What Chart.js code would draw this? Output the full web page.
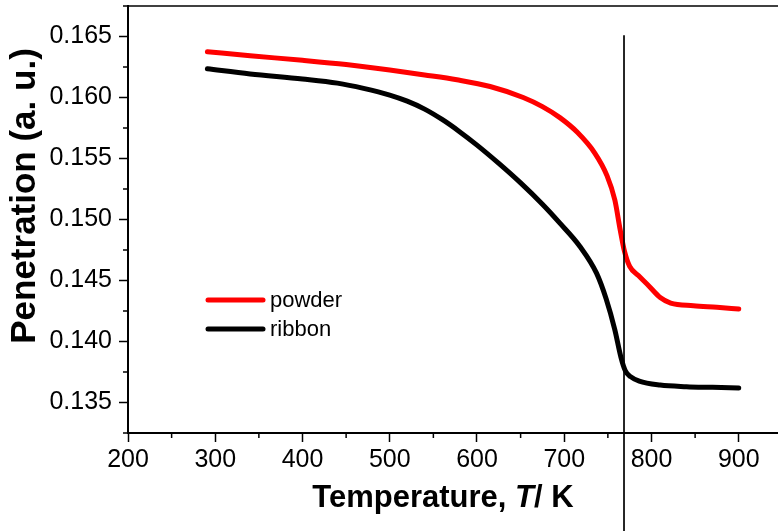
<!DOCTYPE html>
<html>
<head>
<meta charset="utf-8">
<script src="https://cdn.jsdelivr.net/npm/chart.js@4.4.1/dist/chart.umd.min.js"></script>
<style>
  html, body { margin: 0; padding: 0; background: #fff; overflow: hidden; }
  #wrap { width: 778px; height: 531px; }
</style>
</head>
<body>
<div id="wrap"><canvas id="chart" width="778" height="531"></canvas></div>
<script>
"use strict";

// penetration vs temperature, powder and ribbon samples
const powderTemp = [291, 340, 400, 450, 500, 540, 577, 615, 653, 675, 695, 715, 735, 749, 758, 764, 769, 775, 785, 797, 810, 822, 848, 875, 900];
const powderPen = [0.16375, 0.16342, 0.16305, 0.16270, 0.16225, 0.16185, 0.16145, 0.16090, 0.16000, 0.15925, 0.15835, 0.15715, 0.15545, 0.15360, 0.15160, 0.14920, 0.14740, 0.14615, 0.14540, 0.14455, 0.14360, 0.14315, 0.14293, 0.14280, 0.14266];

const ribbonTemp = [291, 340, 400, 440, 470, 500, 520, 540, 560, 580, 600, 625, 650, 675, 695, 718, 737, 748, 758, 765, 770, 776, 786, 810, 840, 870, 900];
const ribbonPen = [0.16235, 0.16193, 0.16152, 0.16118, 0.16075, 0.16020, 0.15970, 0.15905, 0.15820, 0.15720, 0.15610, 0.15460, 0.15300, 0.15125, 0.14970, 0.14779, 0.14560, 0.14350, 0.14096, 0.13870, 0.13760, 0.13712, 0.13675, 0.13643, 0.13630, 0.13624, 0.13618];

const seriesNames = ["powder", "ribbon"];
const xTickValues = [200, 300, 400, 500, 600, 700, 800, 900];
const yTickValues = [0.135, 0.140, 0.145, 0.150, 0.155, 0.160, 0.165];

// transition marker
const transitionT = 768.5;
const markerTop = 0.1651;

const FONT = "Arial, 'Liberation Sans', Helvetica, sans-serif";

function toPoints(xs, ys) {
  return xs.map((x, i) => ({ x, y: ys[i] }));
}

const decor = {
  id: "decor",
  afterDatasetsDraw(chart) {
    const { ctx, chartArea: a, scales: { x, y } } = chart;
    ctx.save();
    ctx.strokeStyle = "#000";

    // top frame line
    ctx.lineWidth = 1.5;
    ctx.beginPath();
    ctx.moveTo(a.left, a.top);
    ctx.lineTo(a.right, a.top);
    ctx.stroke();

    // minor ticks halfway between major ones
    ctx.beginPath();
    for (let i = 0; i < xTickValues.length; i++) {
      const px = x.getPixelForValue(xTickValues[i] + 50);
      if (px > a.right) continue;
      ctx.moveTo(px, a.bottom);
      ctx.lineTo(px, a.bottom + 5);
    }
    for (let i = -1; i < yTickValues.length; i++) {
      const v = i < 0 ? yTickValues[0] - 0.0025 : yTickValues[i] + 0.0025;
      const py = y.getPixelForValue(v);
      if (py < a.top - 0.5 || py > a.bottom + 0.5) continue;
      ctx.moveTo(a.left, py);
      ctx.lineTo(a.left - 5, py);
    }
    ctx.stroke();

    // vertical marker line at the transition temperature
    const mx = x.getPixelForValue(transitionT);
    ctx.lineWidth = 1.7;
    ctx.beginPath();
    ctx.moveTo(mx, y.getPixelForValue(markerTop));
    ctx.lineTo(mx, chart.height);
    ctx.stroke();

    // legend
    const legendX = 208, legendY = 300, rowGap = 29, lineLen = 55;
    ctx.lineCap = "round";
    ctx.font = "22px " + FONT;
    ctx.textBaseline = "middle";
    ctx.fillStyle = "#000";
    chart.data.datasets.forEach((ds, i) => {
      const ly = legendY + i * rowGap;
      ctx.strokeStyle = ds.borderColor;
      ctx.lineWidth = 5;
      ctx.beginPath();
      ctx.moveTo(legendX, ly);
      ctx.lineTo(legendX + lineLen, ly);
      ctx.stroke();
      ctx.fillText(ds.label, legendX + lineLen + 7, ly + 1);
    });

    // x axis title with italic symbol
    const parts = [
      ["Temperature, ", "bold 31px " + FONT],
      ["T", "italic bold 31px " + FONT],
      ["/ K", "bold 31px " + FONT],
    ];
    let total = 0;
    parts.forEach(([t, f]) => { ctx.font = f; total += ctx.measureText(t).width; });
    let tx = 443 - total / 2;
    ctx.textBaseline = "alphabetic";
    parts.forEach(([t, f]) => {
      ctx.font = f;
      ctx.fillText(t, tx, 507);
      tx += ctx.measureText(t).width;
    });

    // y axis title
    ctx.save();
    ctx.translate(35, 196);
    ctx.rotate(-Math.PI / 2);
    ctx.font = "bold 35px " + FONT;
    ctx.textAlign = "center";
    ctx.fillText("Penetration (a. u.)", 0, 0);
    ctx.restore();

    ctx.restore();
  },
};

new Chart(document.getElementById("chart"), {
  type: "line",
  data: {
    datasets: [
      {
        label: seriesNames[0],
        data: toPoints(powderTemp, powderPen),
        borderColor: "#ff0000",
        borderWidth: 5,
        pointRadius: 0,
        cubicInterpolationMode: "monotone",
        borderCapStyle: "round",
        borderJoinStyle: "round",
      },
      {
        label: seriesNames[1],
        data: toPoints(ribbonTemp, ribbonPen),
        borderColor: "#000000",
        borderWidth: 5,
        pointRadius: 0,
        cubicInterpolationMode: "monotone",
        borderCapStyle: "round",
        borderJoinStyle: "round",
      },
    ],
  },
  options: {
    responsive: false,
    animation: false,
    events: [],
    layout: { padding: { top: 6, right: 0, bottom: 0, left: 0 } },
    plugins: { legend: { display: false }, tooltip: { enabled: false } },
    scales: {
      x: {
        type: "linear",
        min: 200,
        max: 945,
        afterBuildTicks: (s) => { s.ticks = xTickValues.map((v) => ({ value: v })); },
        afterFit: (s) => { s.height = 98; s.paddingLeft = 0; s.paddingRight = 0; },
        ticks: { color: "#000", font: { family: FONT, size: 25 }, padding: 3, maxRotation: 0, callback: (v) => String(v) },
        grid: { drawOnChartArea: false, drawTicks: true, tickLength: 9, tickWidth: 1.5, tickColor: "#000" },
        border: { color: "#000", width: 2 },
      },
      y: {
        type: "linear",
        min: 0.1325,
        max: 0.1675,
        afterBuildTicks: (s) => { s.ticks = yTickValues.map((v) => ({ value: v })); },
        afterFit: (s) => { s.width = 128; s.paddingTop = 0; s.paddingBottom = 0; },
        ticks: { color: "#000", font: { family: FONT, size: 25 }, padding: 7, callback: (v) => v.toFixed(3) },
        grid: { drawOnChartArea: false, drawTicks: true, tickLength: 9, tickWidth: 1.5, tickColor: "#000" },
        border: { color: "#000", width: 2 },
      },
    },
  },
  plugins: [decor],
});
</script>
</body>
</html>
